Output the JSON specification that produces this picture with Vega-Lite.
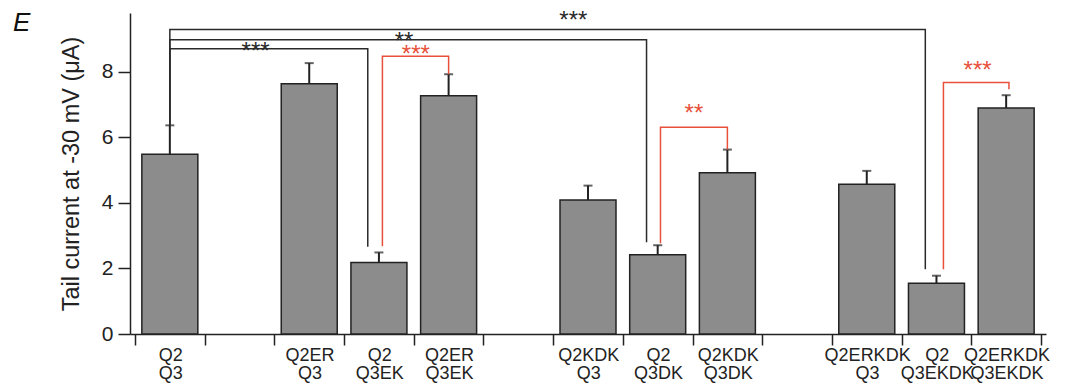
{
  "$schema": "https://vega.github.io/schema/vega-lite/v6.json",
  "width": 916,
  "height": 321,
  "autosize": {"type": "none"},
  "padding": {"left": 130, "top": 13, "right": 23, "bottom": 49},
  "background": "white",
  "config": {
    "font": "Liberation Sans",
    "view": {"stroke": null}
  },
  "title": {
    "text": "E",
    "fontSize": 26,
    "fontStyle": "italic",
    "fontWeight": "normal",
    "color": "#111",
    "anchor": "start",
    "frame": "group",
    "baseline": "alphabetic",
    "offset": -48,
    "dx": -117
  },
  "datasets": {
    "bars": [
      {"slot": 0, "group": "Q2|Q3", "mean": 5.49, "upper": 6.37},
      {"slot": 2, "group": "Q2ER|Q3", "mean": 7.64, "upper": 8.27},
      {"slot": 3, "group": "Q2|Q3EK", "mean": 2.18, "upper": 2.49},
      {"slot": 4, "group": "Q2ER|Q3EK", "mean": 7.27, "upper": 7.93},
      {"slot": 6, "group": "Q2KDK|Q3", "mean": 4.09, "upper": 4.53},
      {"slot": 7, "group": "Q2|Q3DK", "mean": 2.42, "upper": 2.71},
      {"slot": 8, "group": "Q2KDK|Q3DK", "mean": 4.92, "upper": 5.63},
      {"slot": 10, "group": "Q2ERKDK|Q3", "mean": 4.57, "upper": 4.98},
      {"slot": 11, "group": "Q2|Q3EKDK", "mean": 1.55, "upper": 1.78},
      {"slot": 12, "group": "Q2ERKDK|Q3EKDK", "mean": 6.9, "upper": 7.29}
    ],
    "brackets": [
      {"id": "A", "kind": "black", "i": 0, "x": 0, "y": 6.37},
      {"id": "A", "kind": "black", "i": 1, "x": 0, "y": 8.71},
      {"id": "A", "kind": "black", "i": 2, "x": 2.84, "y": 8.71},
      {"id": "A", "kind": "black", "i": 3, "x": 2.84, "y": 2.66},
      {"id": "B", "kind": "black", "i": 0, "x": 0, "y": 6.37},
      {"id": "B", "kind": "black", "i": 1, "x": 0, "y": 8.98},
      {"id": "B", "kind": "black", "i": 2, "x": 6.84, "y": 8.98},
      {"id": "B", "kind": "black", "i": 3, "x": 6.84, "y": 2.8},
      {"id": "C", "kind": "black", "i": 0, "x": 0, "y": 6.37},
      {"id": "C", "kind": "black", "i": 1, "x": 0, "y": 9.3},
      {"id": "C", "kind": "black", "i": 2, "x": 10.84, "y": 9.3},
      {"id": "C", "kind": "black", "i": 3, "x": 10.84, "y": 1.98},
      {"id": "RA", "kind": "red", "i": 0, "x": 3.05, "y": 2.68},
      {"id": "RA", "kind": "red", "i": 1, "x": 3.05, "y": 8.48},
      {"id": "RA", "kind": "red", "i": 2, "x": 4.0, "y": 8.48},
      {"id": "RA", "kind": "red", "i": 3, "x": 4.0, "y": 7.93},
      {"id": "RB", "kind": "red", "i": 0, "x": 7.04, "y": 2.77},
      {"id": "RB", "kind": "red", "i": 1, "x": 7.04, "y": 6.31},
      {"id": "RB", "kind": "red", "i": 2, "x": 8.0, "y": 6.31},
      {"id": "RB", "kind": "red", "i": 3, "x": 8.0, "y": 5.63},
      {"id": "RC", "kind": "red", "i": 0, "x": 11.1, "y": 1.98},
      {"id": "RC", "kind": "red", "i": 1, "x": 11.1, "y": 7.68},
      {"id": "RC", "kind": "red", "i": 2, "x": 12.04, "y": 7.68},
      {"id": "RC", "kind": "red", "i": 3, "x": 12.04, "y": 7.47}
    ],
    "stars": [
      {"kind": "black", "x": 1.23, "y": 8.81, "text": "***"},
      {"kind": "black", "x": 3.36, "y": 9.12, "text": "**"},
      {"kind": "black", "x": 5.79, "y": 9.76, "text": "***"},
      {"kind": "red", "x": 3.53, "y": 8.72, "text": "***"},
      {"kind": "red", "x": 7.52, "y": 6.92, "text": "**"},
      {"kind": "red", "x": 11.59, "y": 8.24, "text": "***"}
    ]
  },
  "layer": [
    {
      "data": {"name": "bars"},
      "mark": {"type": "bar", "width": 56, "fill": "#8c8c8c", "stroke": "#222", "strokeWidth": 1.5},
      "encoding": {
        "x": {
          "field": "slot",
          "type": "quantitative",
          "scale": {"domain": [-0.5, 12.5], "nice": false, "zero": false},
          "axis": {
            "title": null,
            "values": [-0.5, 0.5, 1.5, 2.5, 3.5, 4.5, 5.5, 6.5, 7.5, 8.5, 9.5, 10.5, 11.5, 12.5],
            "labelExpr": "split(['Q2|Q3','','Q2ER|Q3','Q2|Q3EK','Q2ER|Q3EK','','Q2KDK|Q3','Q2|Q3DK','Q2KDK|Q3DK','','Q2ERKDK|Q3','Q2|Q3EKDK','Q2ERKDK|Q3EKDK',''][round(datum.value + 0.5)], '|')",
            "labelOffset": 35.2,
            "labelBound": false,
            "labelOverlap": false,
            "labelFlush": false,
            "labelFontSize": 18,
            "labelLineHeight": 18,
            "labelColor": "#222",
            "labelPadding": 1,
            "labelBaseline": "top",
            "tickSize": 11,
            "tickWidth": 1.5,
            "tickColor": "#222",
            "domainColor": "#222",
            "domainWidth": 1.5,
            "grid": false
          }
        },
        "y": {
          "field": "mean",
          "type": "quantitative",
          "scale": {"domain": [0, 9.8], "nice": false},
          "axis": {
            "title": "Tail current at -30 mV (μA)",
            "titleFontSize": 23.5,
            "titleFontWeight": "normal",
            "titleColor": "#222",
            "titlePadding": 18,
            "values": [0, 2, 4, 6, 8],
            "labelFontSize": 21,
            "labelColor": "#222",
            "labelPadding": 5,
            "tickSize": 12,
            "tickWidth": 1.5,
            "tickColor": "#222",
            "domainColor": "#222",
            "domainWidth": 1.5,
            "grid": false
          }
        }
      }
    },
    {
      "data": {"name": "bars"},
      "mark": {"type": "rule", "color": "#222", "strokeWidth": 2},
      "encoding": {
        "x": {"field": "slot", "type": "quantitative"},
        "y": {"field": "mean", "type": "quantitative"},
        "y2": {"field": "upper"}
      }
    },
    {
      "data": {"name": "bars"},
      "mark": {"type": "tick", "orient": "horizontal", "color": "#222", "size": 9, "thickness": 2},
      "encoding": {
        "x": {"field": "slot", "type": "quantitative"},
        "y": {"field": "upper", "type": "quantitative"}
      }
    },
    {
      "data": {"name": "brackets"},
      "mark": {"type": "line", "strokeWidth": 1.5, "interpolate": "linear"},
      "encoding": {
        "x": {"field": "x", "type": "quantitative"},
        "y": {"field": "y", "type": "quantitative"},
        "detail": {"field": "id"},
        "order": {"field": "i"},
        "color": {"field": "kind", "type": "nominal", "scale": {"domain": ["black", "red"], "range": ["#2a2a2a", "#e8503a"]}, "legend": null}
      }
    },
    {
      "data": {"name": "stars"},
      "mark": {"type": "text", "fontSize": 24, "baseline": "alphabetic", "dy": 14, "align": "center"},
      "encoding": {
        "x": {"field": "x", "type": "quantitative"},
        "y": {"field": "y", "type": "quantitative"},
        "text": {"field": "text"},
        "color": {"field": "kind", "type": "nominal", "scale": {"domain": ["black", "red"], "range": ["#2a2a2a", "#e8503a"]}, "legend": null}
      }
    }
  ]
}
